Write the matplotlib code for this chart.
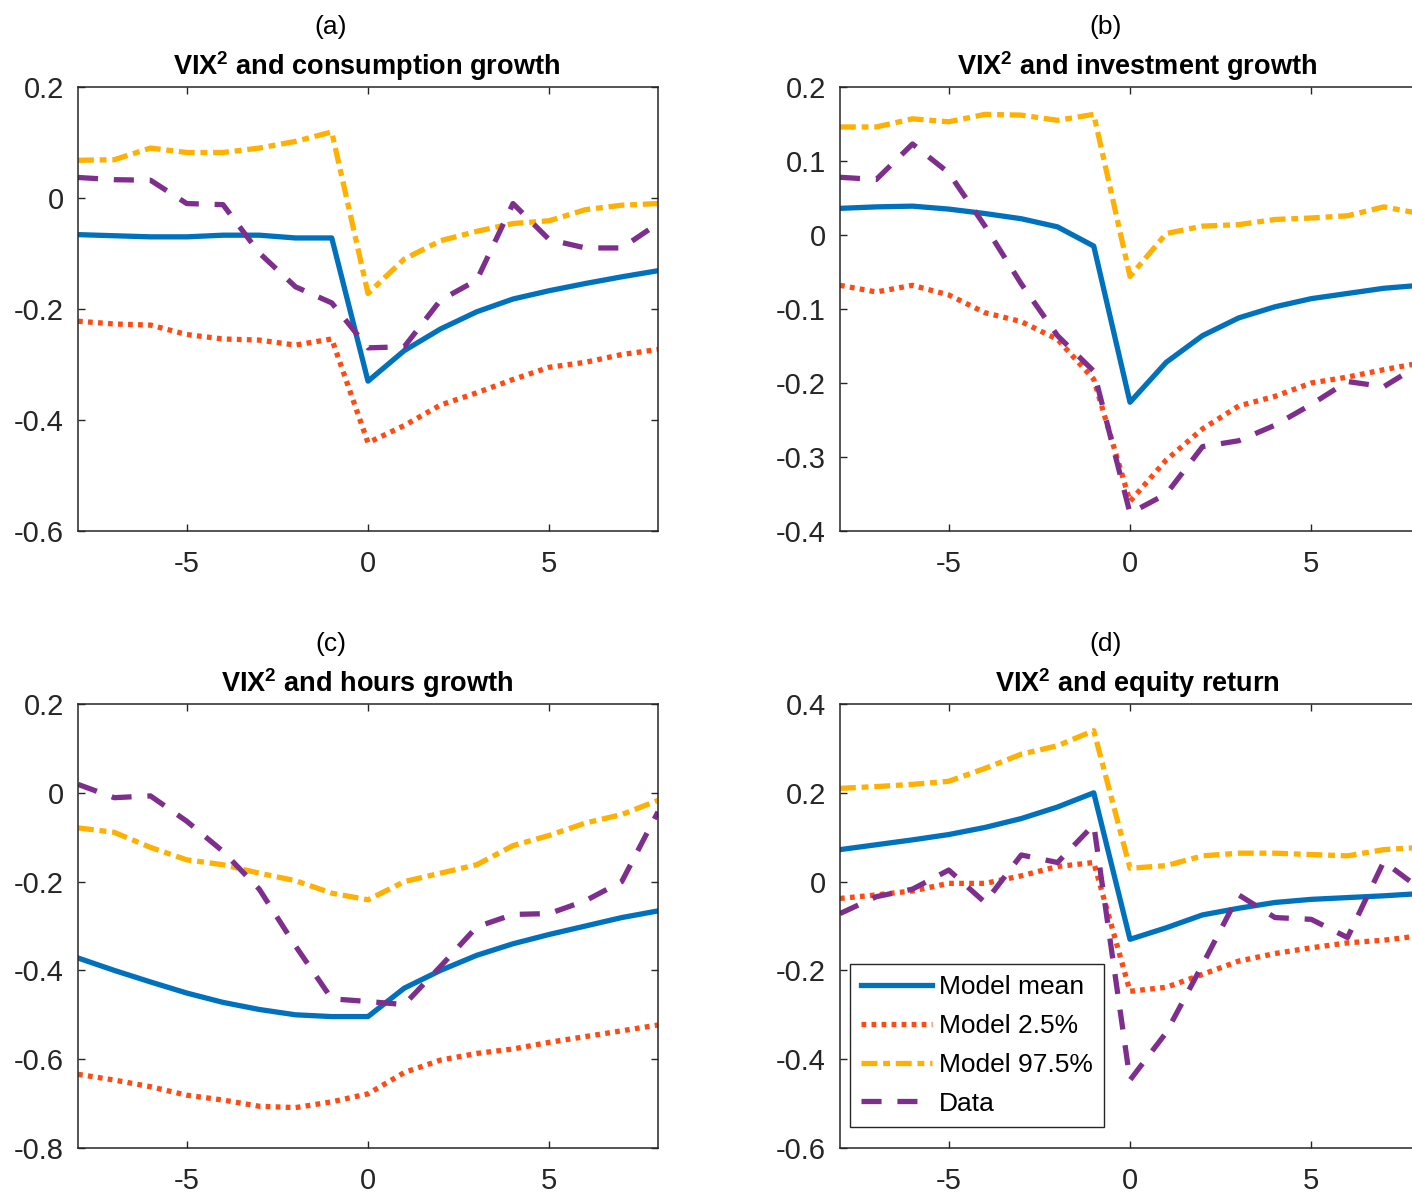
import matplotlib
matplotlib.use("Agg")
import matplotlib.pyplot as plt

plt.rcParams['font.family'] = ['Liberation Sans', 'DejaVu Sans']
plt.rcParams['mathtext.fontset'] = 'custom'
plt.rcParams['mathtext.rm'] = 'Liberation Sans'
plt.rcParams['mathtext.bf'] = 'Liberation Sans:bold'
plt.rcParams['axes.unicode_minus'] = False

lags = list(range(-8, 9))

# consumption growth
mean_a = [-0.066, -0.068, -0.070, -0.070, -0.067, -0.067, -0.072, -0.072, -0.330,
          -0.275, -0.236, -0.205, -0.182, -0.167, -0.154, -0.142, -0.131]
lo_a = [-0.222, -0.227, -0.229, -0.246, -0.254, -0.256, -0.265, -0.254, -0.441,
        -0.410, -0.373, -0.351, -0.327, -0.305, -0.296, -0.282, -0.273]
hi_a = [0.068, 0.069, 0.090, 0.082, 0.082, 0.090, 0.102, 0.119, -0.172,
        -0.110, -0.077, -0.060, -0.046, -0.041, -0.021, -0.013, -0.010]
data_a = [0.037, 0.033, 0.032, -0.010, -0.012, -0.099, -0.160, -0.189, -0.270,
          -0.268, -0.184, -0.148, -0.010, -0.075, -0.090, -0.090, -0.046]

# investment growth
mean_b = [0.036, 0.038, 0.039, 0.035, 0.029, 0.022, 0.011, -0.015, -0.226,
          -0.172, -0.136, -0.112, -0.097, -0.086, -0.079, -0.072, -0.068]
lo_b = [-0.068, -0.077, -0.068, -0.081, -0.105, -0.117, -0.141, -0.195, -0.360,
        -0.304, -0.262, -0.231, -0.218, -0.200, -0.192, -0.182, -0.173]
hi_b = [0.146, 0.146, 0.157, 0.153, 0.163, 0.162, 0.155, 0.163, -0.056,
        0.002, 0.012, 0.014, 0.021, 0.023, 0.026, 0.038, 0.029]
data_b = [0.078, 0.075, 0.123, 0.084, 0.012, -0.066, -0.136, -0.184, -0.376,
          -0.350, -0.286, -0.278, -0.257, -0.229, -0.198, -0.205, -0.175]

# hours growth
mean_c = [-0.372, -0.400, -0.426, -0.451, -0.472, -0.488, -0.500, -0.504, -0.504,
          -0.440, -0.400, -0.366, -0.340, -0.319, -0.300, -0.281, -0.266]
lo_c = [-0.634, -0.647, -0.662, -0.681, -0.692, -0.706, -0.709, -0.696, -0.678,
        -0.630, -0.602, -0.587, -0.577, -0.562, -0.549, -0.536, -0.523]
hi_c = [-0.079, -0.089, -0.123, -0.151, -0.162, -0.181, -0.198, -0.226, -0.241,
        -0.200, -0.181, -0.162, -0.119, -0.096, -0.068, -0.049, -0.017]
data_c = [0.019, -0.011, -0.007, -0.064, -0.132, -0.217, -0.345, -0.464, -0.470,
          -0.477, -0.391, -0.302, -0.274, -0.272, -0.243, -0.200, -0.043]

# equity return
mean_d = [0.072, 0.083, 0.094, 0.106, 0.122, 0.142, 0.168, 0.200, -0.130,
          -0.104, -0.075, -0.060, -0.047, -0.040, -0.036, -0.032, -0.027]
lo_d = [-0.038, -0.030, -0.021, -0.004, -0.004, 0.013, 0.034, 0.043, -0.247,
        -0.238, -0.209, -0.179, -0.162, -0.149, -0.138, -0.132, -0.122]
hi_d = [0.210, 0.214, 0.219, 0.226, 0.255, 0.287, 0.306, 0.340, 0.030,
        0.036, 0.058, 0.064, 0.064, 0.061, 0.058, 0.072, 0.077]
data_d = [-0.072, -0.034, -0.017, 0.026, -0.047, 0.060, 0.043, 0.128, -0.447,
          -0.340, -0.187, -0.030, -0.081, -0.085, -0.126, 0.045, -0.016]

panel_tags = ['(a)', '(b)', '(c)', '(d)']
panel_titles = [r'VIX$^{\mathbf{2}}$ and consumption growth',
                r'VIX$^{\mathbf{2}}$ and investment growth',
                r'VIX$^{\mathbf{2}}$ and hours growth',
                r'VIX$^{\mathbf{2}}$ and equity return']
ylims = [(-0.6, 0.2), (-0.4, 0.2), (-0.8, 0.2), (-0.6, 0.4)]
yticks = [[-0.6, -0.4, -0.2, 0, 0.2],
          [-0.4, -0.3, -0.2, -0.1, 0, 0.1, 0.2],
          [-0.8, -0.6, -0.4, -0.2, 0, 0.2],
          [-0.6, -0.4, -0.2, 0, 0.2, 0.4]]
series = [(mean_a, lo_a, hi_a, data_a), (mean_b, lo_b, hi_b, data_b),
          (mean_c, lo_c, hi_c, data_c), (mean_d, lo_d, hi_d, data_d)]

c_mean = '#0072BD'
c_lo = '#FF4A14'
c_hi = '#FFB000'
c_data = '#7E2F8E'
axcol = '#262626'

W, H = 1412, 1193
fig = plt.figure(figsize=(W / 100, H / 100), dpi=100)

# axes boxes in pixels: left, top
boxes = [(78, 87), (840, 87), (78, 704), (840, 704)]
aw, ah = 580, 444
tag_x = [331, 1106, 331, 1106]
title_x = [367, 1137, 367, 1137]

for i, (l, t) in enumerate(boxes):
    ax = fig.add_axes([l / W, 1 - (t + ah) / H, aw / W, ah / H])
    m, lo, hi, d = series[i]
    ax.plot(lags, m, '-', color=c_mean, lw=3.8, label='Model mean')
    ax.plot(lags, lo, color=c_lo, lw=3.8, ls=(0, (0.9, 1.0)), label='Model 2.5%')
    ax.plot(lags, hi, color=c_hi, lw=3.8, ls=(0, (3.0, 1.1, 1.3, 1.1)), label='Model 97.5%')
    ax.plot(lags, d, color=c_data, lw=3.8, ls=(0, (3.8, 3.0)), label='Data')
    ax.set_xlim(-8, 8)
    ax.set_ylim(*ylims[i])
    ax.set_xticks([-5, 0, 5])
    ax.set_yticks(yticks[i])
    ax.set_yticklabels([f'{v:g}' for v in yticks[i]])
    ax.tick_params(direction='in', top=True, right=True, length=5, width=1,
                   color=axcol, labelcolor=axcol, labelsize=21)
    ax.tick_params(axis='x', pad=14)
    ax.tick_params(axis='y', pad=10)
    for s in ax.spines.values():
        s.set_color(axcol)
        s.set_linewidth(1.1)

    fig.text(tag_x[i] / W, 1 - (t - 60) / H, panel_tags[i], ha='center', va='center',
             fontsize=19, color='black')
    fig.text(title_x[i] / W, 1 - (t - 21) / H, panel_titles[i], ha='center', va='center',
             fontsize=19.5, fontweight='bold', color='black')

    if i == 3:
        leg = ax.legend(loc='lower left', bbox_to_anchor=(0.017, 0.048), fontsize=19,
                        handlelength=2.7, labelspacing=0.56, handletextpad=0.25,
                        borderpad=0.42, borderaxespad=0, fancybox=False,
                        framealpha=1, edgecolor=axcol)
        leg.get_frame().set_linewidth(1.0)

fig.savefig('out.png', dpi=100)
